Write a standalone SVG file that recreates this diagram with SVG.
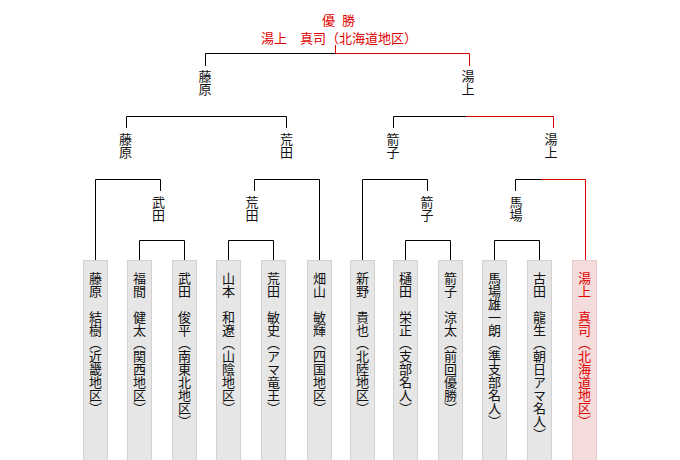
<svg xmlns="http://www.w3.org/2000/svg" width="680" height="460" viewBox="0 0 680 460">
<style>
text{font-family:"Noto Sans CJK JP","Noto Sans CJK SC",sans-serif;font-size:13px;fill:#111}
.v{writing-mode:vertical-rl}
.r{fill:#e00000}
.box{fill:#e6e6e6;stroke:#d2d2d2;stroke-width:1}
.wbox{fill:#f5dcdc;stroke:#e8caca;stroke-width:1}
.k{fill:none;stroke:#000;stroke-width:1}
.rl{fill:none;stroke:#dd0000;stroke-width:1}
</style>
<rect width="680" height="460" fill="#fff"/>
<g id="connectors">
  <path class="rl" d="M335.5,45V53.5"/>
  <path class="k" d="M205.5,66V53.5H335.5"/>
  <path class="rl" d="M335.5,53.5H469.5V66"/>
  <path class="k" d="M126.5,128V116.5H286.5V128"/>
  <path class="k" d="M393.5,128V116.5H466"/>
  <path class="rl" d="M466,116.5H553.5V128"/>
  <path class="k" d="M95.5,260V179.5H160.5V191"/>
  <path class="k" d="M254.5,191V179.5H319.5V260"/>
  <path class="k" d="M362.5,260V179.5H427.5V191"/>
  <path class="k" d="M515.5,191V179.5H541"/>
  <path class="rl" d="M541,179.5H585.5V260"/>
  <path class="k" d="M139.5,260V240.5H184.5V260"/>
  <path class="k" d="M228.5,260V240.5H273.5V260"/>
  <path class="k" d="M405.5,260V240.5H450.5V260"/>
  <path class="k" d="M494.5,260V240.5H539.5V260"/>
</g>
<g id="champion">
  <text class="r" y="25"><tspan x="322">優</tspan><tspan x="342">勝</tspan></text>
  <text class="r" x="261" y="43">湯上　真司（北海道地区）</text>
</g>
<g id="r1-fujiwara"><text class="v" x="205" y="70">藤原</text></g>
<g id="r1-yukami"><text class="v" x="468" y="70">湯上</text></g>
<g id="r2-fujiwara"><text class="v" x="125.5" y="133">藤原</text></g>
<g id="r2-arata"><text class="v" x="286.5" y="133">荒田</text></g>
<g id="r2-yako"><text class="v" x="393" y="133">箭子</text></g>
<g id="r2-yukami"><text class="v" x="551" y="133">湯上</text></g>
<g id="r3-takeda"><text class="v" x="158.5" y="196">武田</text></g>
<g id="r3-arata"><text class="v" x="252" y="196">荒田</text></g>
<g id="r3-yako"><text class="v" x="427" y="196">箭子</text></g>
<g id="r3-baba"><text class="v" x="516" y="196">馬場</text></g>
<g id="p1"><rect class="box" x="83.5" y="260.5" width="24" height="205"/><text class="v" x="95.5" y="272">藤原　結樹（近畿地区）</text></g>
<g id="p2"><rect class="box" x="127.5" y="260.5" width="24" height="205"/><text class="v" x="139.5" y="272">福間　健太（関西地区）</text></g>
<g id="p3"><rect class="box" x="172.5" y="260.5" width="24" height="205"/><text class="v" x="184.5" y="272">武田　俊平（南東北地区）</text></g>
<g id="p4"><rect class="box" x="216.5" y="260.5" width="24" height="205"/><text class="v" x="228.5" y="272">山本　和遼（山陰地区）</text></g>
<g id="p5"><rect class="box" x="261.5" y="260.5" width="24" height="205"/><text class="v" x="273.5" y="272">荒田　敏史（アマ竜王）</text></g>
<g id="p6"><rect class="box" x="307.5" y="260.5" width="24" height="205"/><text class="v" x="319.5" y="272">畑山　敏輝（四国地区）</text></g>
<g id="p7"><rect class="box" x="350.5" y="260.5" width="24" height="205"/><text class="v" x="362.5" y="272">新野　貴也（北陸地区）</text></g>
<g id="p8"><rect class="box" x="393.5" y="260.5" width="24" height="205"/><text class="v" x="405.5" y="272">樋田　栄正（支部名人）</text></g>
<g id="p9"><rect class="box" x="438.5" y="260.5" width="24" height="205"/><text class="v" x="450.5" y="272">箭子　涼太（前回優勝）</text></g>
<g id="p10"><rect class="box" x="482.5" y="260.5" width="24" height="205"/><text class="v" x="494.5" y="272">馬場雄一朗（準支部名人）</text></g>
<g id="p11"><rect class="box" x="527.5" y="260.5" width="24" height="205"/><text class="v" x="539.5" y="272">古田　龍生（朝日アマ名人）</text></g>
<g id="p12"><rect class="wbox" x="572.5" y="260.5" width="24" height="205"/><text class="v r" x="584.5" y="272">湯上　真司（北海道地区）</text></g>
</svg>
